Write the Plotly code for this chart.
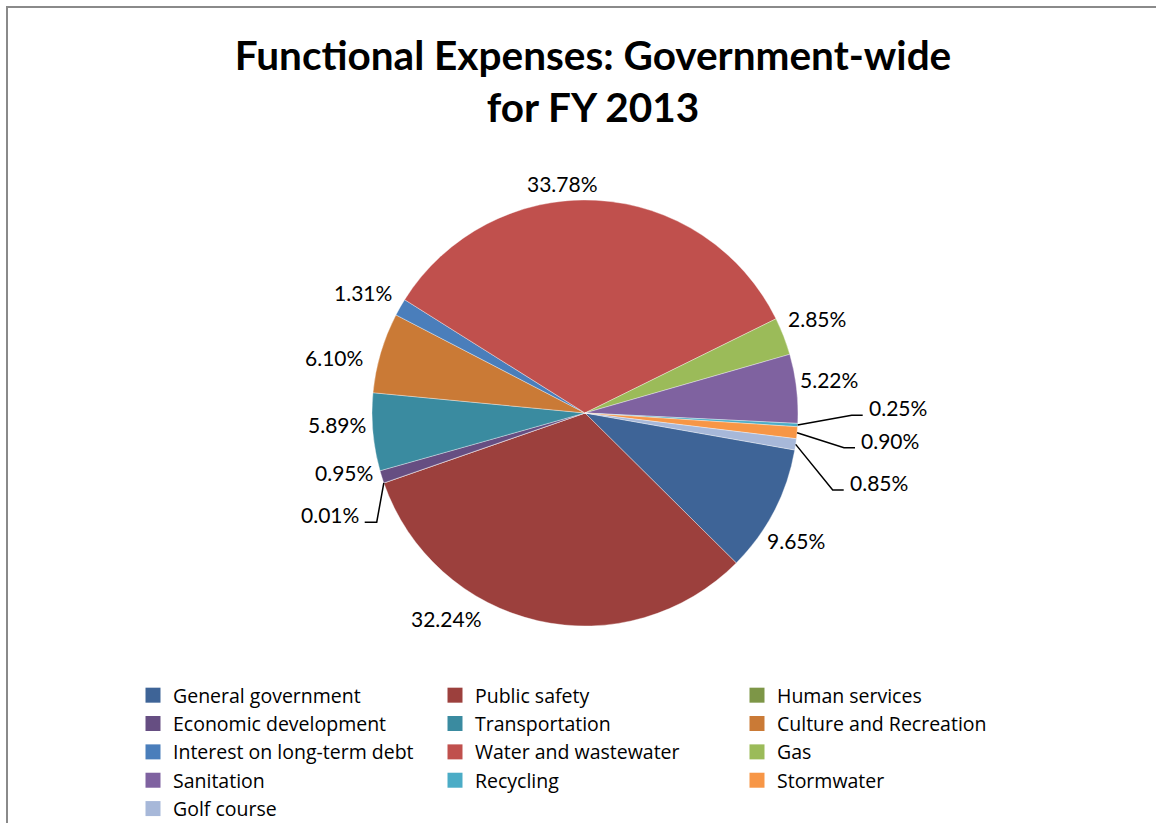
import numpy as np
import plotly.graph_objects as go

# ---------------- data ----------------
categories = [
    "General government", "Public safety", "Human services",
    "Economic development", "Transportation", "Culture and Recreation",
    "Interest on long-term debt", "Water and wastewater", "Gas",
    "Sanitation", "Recycling", "Stormwater", "Golf course",
]
values = [9.65, 32.24, 0.01, 0.95, 5.89, 6.10, 1.31, 33.78, 2.85, 5.22, 0.25, 0.90, 0.85]

# ---------------- style ----------------
colors = [
    "#3E6497", "#9C403D", "#7D9647", "#664E82", "#3A8BA0", "#CA7A36",
    "#4A7EBB", "#C0504D", "#9BBB59", "#7F62A0", "#4BACC6", "#F79646", "#A7B8D9",
]
W, H = 1156, 823
CX, CY, R = 585, 413, 213          # pie centre / radius in pixels
ROT = 100                          # start angle of first slice (deg, clockwise from 12 o'clock)
FONT = "Lato"
LABEL_SIZE = 21

# label nudges: (angle offset deg, distance offset px) relative to default placement
label_nudge = {
    "Water and wastewater": (-8.5, -3),
    "Gas": (-1, -2),
    "Sanitation": (-1.3, -5),
    "General government": (3.7, -6),
    "Public safety": (21.3, 8),
    "Economic development": (3.5, -4.5),
    "Transportation": (2.4, -3),
    "Culture and Recreation": (-4.1, 5),
    "Interest on long-term debt": (-1.3, 0),
}
# leader-line labels: elbow (angle offset deg from mid-angle, distance px), side
leader = {
    "Recycling": (-2.75, 266.7, "right"),
    "Stormwater": (2.3, 261.3, "right"),
    "Golf course": (8.8, 259.4, "right"),
    "Human services": (-8.5, 235.2, "left"),
}


def px(x):
    return x / W


def py(y):
    return 1 - y / H


def polar(angle_deg, dist):
    a = np.deg2rad(angle_deg)
    return CX + dist * np.sin(a), CY - dist * np.cos(a)


vals = np.array(values, dtype=float)
total = vals.sum()
cum = np.concatenate([[0], np.cumsum(vals)[:-1]])
mid = ROT + (cum + vals / 2) / total * 360
texts = [f"{v / total * 100:.2f}%" for v in vals]

fig = go.Figure()
fig.add_trace(go.Pie(
    labels=categories,
    values=values,
    sort=False,
    direction="clockwise",
    rotation=ROT,
    textinfo="none",
    hoverinfo="label+percent",
    marker=dict(colors=colors, line=dict(color="rgba(255,255,255,0.6)", width=0.6)),
    domain=dict(x=[px(CX - R), px(CX + R)], y=[py(CY + R), py(CY - R)]),
    showlegend=False,
))

# legend entries with larger square swatches
for name, col in zip(categories, colors):
    fig.add_trace(go.Scatter(
        x=[None], y=[None], mode="markers", name=name,
        marker=dict(symbol="square", size=15, color=col, line=dict(width=0)),
        hoverinfo="skip", showlegend=True,
    ))

annotations = []
shapes = []
for name, th, t in zip(categories, mid, texts):
    if name in leader:
        da, dist, side = leader[name]
        ex, ey = polar(th, R)
        bx, by = polar(th + da, dist)
        hx = bx + 11 if side == "right" else bx - 12
        shapes.append(dict(
            type="path", xref="paper", yref="paper",
            path=f"M {px(ex)} {py(ey)} L {px(bx)} {py(by)} L {px(hx)} {py(by)}",
            line=dict(color="black", width=1.5),
        ))
        tx = hx + 4 if side == "right" else hx - 4
        annotations.append(dict(
            x=px(tx), y=py(by - 7.5), xref="paper", yref="paper",
            text=t, showarrow=False,
            xanchor="left" if side == "right" else "right", yanchor="middle",
            font=dict(family=FONT, size=LABEL_SIZE, color="black"),
        ))
    else:
        s, c = np.sin(np.deg2rad(th)), np.cos(np.deg2rad(th))
        hw = 5.9 * len(t)
        dist = R + 8 + hw * abs(s) + 11 * abs(c)
        da, dd = label_nudge.get(name, (0, 0))
        lx, ly = polar(th + da, dist + dd)
        annotations.append(dict(
            x=px(lx), y=py(ly), xref="paper", yref="paper",
            text=t, showarrow=False, xanchor="center", yanchor="middle",
            font=dict(family=FONT, size=LABEL_SIZE, color="black"),
        ))

# chart border
shapes.append(dict(
    type="rect", xref="paper", yref="paper",
    x0=px(7), y0=py(7), x1=1.02, y1=-0.02,
    line=dict(color="#8A8A8A", width=2),
))

fig.update_layout(
    width=W, height=H,
    margin=dict(l=0, r=0, t=0, b=0, autoexpand=False),
    paper_bgcolor="white",
    plot_bgcolor="white",
    xaxis=dict(visible=False),
    yaxis=dict(visible=False),
    title=dict(
        text="Functional Expenses: Government-wide<br>for FY 2013",
        font=dict(family=FONT, size=40.5, color="black", weight="bold"),
        x=px(593), xanchor="center",
        y=py(69.5), yanchor="top", yref="container",
    ),
    legend=dict(
        orientation="h",
        x=px(133), xanchor="left",
        y=py(676), yanchor="top",
        entrywidth=257, entrywidthmode="pixels",
        font=dict(family="Open Sans", size=19.5, color="black"),
        traceorder="normal",
        itemsizing="trace",
        bgcolor="rgba(0,0,0,0)",
        itemclick=False,
    ),
    annotations=annotations,
    shapes=shapes,
)

fig.write_html("out.html")
